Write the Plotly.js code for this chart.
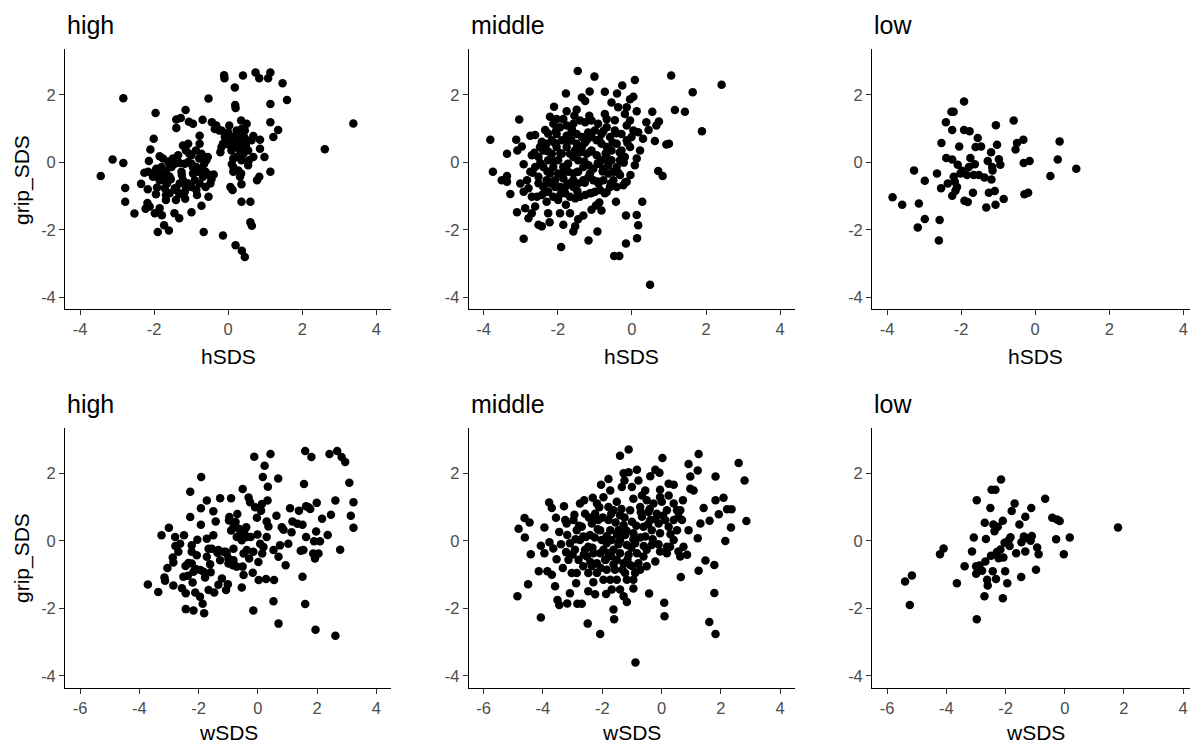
<!DOCTYPE html>
<html>
<head>
<meta charset="utf-8">
<script src="https://cdn.plot.ly/plotly-3.0.1.min.js"></script>
<style>html,body{margin:0;padding:0;background:#fff;}#chart{width:1190px;height:745px;}</style>
</head>
<body>
<div id="chart"></div>
<script>
// ---------- data ----------
const groups = ["high", "middle", "low"];
const xNamesTop = "hSDS";
const xNamesBottom = "wSDS";
const yName = "grip_SDS";

const hTicks = [-4, -2, 0, 2, 4];
const hTickText = ["-4", "-2", "0", "2", "4"];
const wTicks = [-6, -4, -2, 0, 2, 4];
const wTickText = ["-6", "-4", "-2", "0", "2", "4"];
const gripTicks = [-4, -2, 0, 2];
const gripTickText = ["-4", "-2", "0", "2"];

// hSDS vs grip_SDS, group "high"
const hSDS_high = [-3.44,-3.12,-2.83,-2.83,-2.78,-2.78,-2.53,-2.35,-2.26,-2.23,-2.18,-2.17,-2.14,-2.10,-2.01,-1.96,-2.12,-1.98,-1.90,-1.92,-2.03,-1.89,-1.85,-1.76,-1.80,-1.85,-1.79,-1.73,-1.60,-1.68,-1.68,-1.65,-1.58,-1.53,-1.49,-1.45,-1.32,-1.41,-1.32,-1.40,-1.40,-1.28,-1.15,-1.22,-1.14,-1.31,-1.26,-1.22,-1.17,-1.16,-1.06,-0.95,-1.05,-0.99,-0.95,-0.90,-0.99,-0.84,-0.77,-0.77,-0.78,-0.72,-0.69,-0.72,-0.66,-0.61,-0.55,-0.53,-0.50,-0.48,-0.53,-0.44,-0.39,-0.36,-0.24,-0.21,-0.14,-0.11,-0.10,-0.05,0.03,0.00,0.06,0.12,0.14,0.14,0.18,0.19,0.20,0.20,0.23,0.23,0.27,0.32,0.35,0.36,0.36,0.35,0.37,0.40,0.45,0.43,0.48,0.50,0.56,0.60,0.60,0.64,0.68,0.74,0.78,0.84,0.84,0.86,0.86,0.98,1.08,1.14,1.14,1.14,1.14,1.22,1.35,1.47,1.59,2.61,3.38,
  -1.94,-2.00,-1.76,-1.67,-1.58,-1.44,-1.35,-1.17,-1.08,-0.99,-0.86,-0.81,-0.68,-0.61,-0.59,-0.72,-0.87,-1.08,-1.31,-1.44,-1.58,-1.71,-1.76,-1.13,-0.99,-0.77,-0.86,-1.85,-2.16,
  -0.32,-0.18,-0.09,0.05,0.14,0.27,0.36,0.45,0.41,0.32,0.18,0.09,-0.14,-0.18,0.23,0.36,0.41,0.54,0.14,0.32,0.50,0.63,0.54,0.68,
  -1.85,-1.55,-1.25,-0.95,-0.65,-1.40,-1.95,-1.10,-0.45,-1.62,0.05,0.28,0.45,0.10,0.30];
const grip_high_h = [-0.41,0.08,1.90,-0.02,-0.76,-1.17,-1.52,-0.64,-0.31,-1.38,-1.21,-0.80,0.04,0.38,0.70,1.46,-1.31,-1.51,-2.07,-0.75,-0.43,-0.28,0.18,0.11,-0.14,-1.36,-1.57,-1.87,-2.02,-0.97,-1.12,-0.63,-0.43,-0.14,0.11,-1.51,-1.66,-1.12,-0.94,1.02,1.27,1.31,1.55,0.50,0.35,-0.02,-0.28,-0.53,-0.87,-1.08,1.20,1.14,0.25,-0.04,-0.33,-0.53,-1.48,-0.97,0.79,0.55,0.11,-0.19,1.26,-1.29,-2.07,-0.73,0.16,1.89,-0.38,-0.63,-1.02,1.19,-0.36,0.99,0.94,0.30,-2.17,2.58,2.49,0.55,1.09,0.89,-0.73,-0.82,-0.14,0.11,2.22,1.70,1.61,-2.46,0.94,0.55,-0.24,0.35,1.24,-0.65,-1.17,-0.33,-2.62,2.57,-2.81,0.75,0.50,1.14,0.06,-1.17,-1.78,-1.88,0.78,2.66,-0.53,-0.43,2.49,0.40,0.67,0.16,2.49,2.66,1.73,1.19,-0.28,0.75,0.96,2.34,1.85,0.39,1.15,
  -0.19,-0.31,-0.28,-0.33,-0.14,-0.04,0.21,-0.04,0.01,0.21,-0.14,-0.28,-0.43,-0.28,0.06,0.25,0.35,0.55,-0.63,-0.77,-0.92,-0.77,-0.53,-0.73,-0.73,-0.63,-0.82,-0.53,-0.28,
  1.09,0.94,0.75,0.65,0.75,0.84,0.99,0.94,0.60,0.50,0.45,0.35,0.55,0.45,0.16,0.06,0.25,0.35,-0.28,-0.43,0.65,0.65,-0.09,0.16,
  -0.35,-0.50,-0.38,-0.15,-0.05,-0.82,-0.95,-0.62,-0.50,0.02,0.50,0.70,0.40,-0.05,0.15];

// hSDS vs grip_SDS, group "middle"
const hSDS_middle = [-3.82,-3.75,-3.37,-3.51,-3.37,-3.37,-3.28,-3.12,-3.09,-3.04,-3.10,-2.92,-2.97,-3.01,-2.92,-2.88,-2.79,-2.74,-2.70,-2.70,-2.61,-2.61,-2.52,-2.43,-2.39,-2.34,-2.30,-2.26,-2.22,-2.21,-2.10,-2.03,-1.94,-1.91,-1.85,-1.78,-1.76,-1.78,-1.67,-1.58,-1.53,-1.49,-1.46,-1.45,-1.35,-1.31,-1.26,-1.17,-1.14,-1.15,-1.09,-1.01,-0.97,-0.93,-0.88,-0.82,-0.73,-0.73,-0.55,-0.46,-0.48,-0.43,-0.40,-0.34,-0.26,-0.19,-0.16,-0.16,-0.05,-0.04,0.04,0.08,0.13,0.13,0.14,0.17,0.17,0.28,0.30,0.39,0.45,0.49,0.55,0.62,0.66,0.73,0.71,0.83,0.93,1.00,1.06,1.16,1.43,1.64,1.89,2.42,
  0.22,0.13,0.08,-0.14,-0.23,-0.32,-0.41,-0.05,-0.01,-0.14,-0.28,-0.46,-0.59,-0.68,-0.82,-0.91,-1.00,-1.09,-1.26,-1.40,-1.58,-1.76,-1.94,-2.03,-2.16,-2.30,-2.48,-2.52,-2.61,-2.74,-2.83,-2.79,-2.92,-2.52,-2.39,-2.26,-2.12,-1.99,-2.39,-2.21,-2.07,-1.94,-1.80,-1.67,-1.53,-1.40,-1.26,-1.13,-0.99,-0.86,-0.73,-0.59,-0.50,-0.64,-0.77,-0.90,-1.04,-1.17,-1.31,-1.45,-1.58,-1.72,-1.85,-1.99,-2.12,-2.26,-2.16,-2.03,-1.89,-1.76,-1.63,-1.49,-1.35,-1.22,-1.09,-0.95,-0.82,-0.68,-0.55,-0.41,-0.28,-0.19,-0.41,-0.55,-0.68,-0.82,-0.95,-1.09,-1.22,-1.35,-1.49,-1.63,-1.76,-1.89,-1.99,-1.85,-1.72,-1.58,-1.45,-1.31,-1.17,-1.04,-0.90,-0.77,-0.64,-0.50,-0.32,-1.58,-1.45,-1.72,-1.40,-1.53,-1.67,-2.07,-2.21,-2.56,-2.70,-2.43,-1.80,-1.58,-2.30,-1.85,-1.55,-0.68,-0.14,-0.37,-0.05,0.04,-0.14,-2.12,-2.26,
  -2.05,-1.62,-1.18,-0.77,-0.42,-2.43,-2.08,-1.71,-1.27,-0.88,-0.52,-0.12,-2.63,-2.27,-1.93,-1.52,-1.12,-0.71,-0.33,-2.47,-2.12,-1.73,-1.28,-0.92,-0.61,-0.22,-2.68,-2.28,-1.88,-1.48,-1.13,-0.79,-0.37,-2.52,-2.13,-1.68,-1.27,-0.93,-0.57,-0.18,-2.33,-1.92,-1.47,-1.08,-0.68];
const grip_middle_h = [0.67,-0.28,0.25,-0.53,-0.41,-0.58,-0.94,0.67,0.35,1.27,-1.48,-2.27,0.47,-0.63,-0.06,-1.36,-1.66,0.79,0.21,-1.51,-1.31,0.81,-1.85,-1.90,0.35,0.96,-1.17,-1.51,-1.78,1.35,1.65,1.28,-1.51,-2.51,-1.85,2.04,1.51,-1.26,-1.51,-2.05,-1.90,1.56,2.71,-1.69,1.92,-1.58,1.82,-2.32,2.10,1.38,-1.41,2.54,-1.28,-2.05,-1.19,-1.43,2.09,1.43,1.77,1.25,-2.78,-1.17,2.04,-2.78,2.28,1.43,-1.58,-2.41,1.87,-0.38,1.94,2.44,1.51,-1.56,-2.25,0.89,-1.87,-1.17,0.70,1.19,0.96,-3.63,1.50,0.63,1.09,1.21,-0.26,-0.41,0.53,0.55,2.57,1.55,1.50,2.08,0.92,2.30,
  0.35,0.11,-0.09,-0.58,-0.68,0.06,-0.73,0.45,0.75,1.09,0.84,0.94,0.75,1.04,0.84,1.14,0.94,1.24,1.19,1.24,1.14,1.09,1.04,0.84,0.65,0.55,0.45,0.16,-0.14,-0.28,-0.53,-0.77,-0.87,-0.43,-0.73,-0.87,-1.02,-1.12,-0.14,-0.33,-0.53,-0.73,-0.92,-1.02,-1.07,-1.02,-0.97,-0.92,-0.87,-0.82,-0.92,-0.73,-0.53,-0.33,-0.53,-0.63,-0.53,-0.43,-0.53,-0.63,-0.73,-0.63,-0.48,-0.33,-0.14,0.06,0.25,0.45,0.65,0.79,0.89,0.84,0.75,0.65,0.75,0.65,0.55,0.45,0.35,0.55,0.35,0.16,-0.14,0.06,0.16,0.06,0.21,0.35,0.25,0.45,0.55,0.65,0.45,0.25,0.06,-0.14,-0.04,0.16,0.06,-0.14,-0.09,-0.19,-0.04,-0.19,-0.09,-0.28,-0.38,-0.33,-0.28,-0.28,0.30,0.35,0.25,-0.73,-0.63,-1.02,-1.02,-0.97,-0.73,-0.53,-0.53,1.28,1.38,1.28,1.63,1.63,1.24,0.94,0.65,1.14,0.85,
  0.92,0.97,0.88,0.93,0.86,0.61,0.57,0.63,0.58,0.66,0.59,0.57,0.28,0.33,0.27,0.36,0.31,0.26,0.29,-0.02,0.03,-0.05,0.02,-0.03,0.04,-0.01,-0.31,-0.27,-0.34,-0.29,-0.33,-0.27,-0.31,-0.62,-0.58,-0.64,-0.61,-0.57,-0.63,-0.59,-0.88,-0.93,-0.86,-0.91,-0.88];

// hSDS vs grip_SDS, group "low"
const hSDS_low = [-3.85,-3.59,-3.27,-3.17,-3.14,-2.98,-2.98,-2.65,-2.60,-2.58,-2.54,-2.53,-2.41,-2.40,-2.36,-2.26,-2.20,-2.24,-2.24,-2.24,-2.20,-2.17,-2.15,-2.11,-2.09,-2.05,-2.02,-1.97,-1.92,-1.92,-1.91,-1.84,-1.82,-1.79,-1.77,-1.75,-1.68,-1.66,-1.63,-1.61,-1.55,-1.52,-1.46,-1.37,-1.32,-1.28,-1.25,-1.19,-1.18,-1.16,-1.15,-1.09,-1.07,-1.06,-1.03,-0.98,-0.94,-0.85,-0.58,-0.53,-0.49,-0.32,-0.31,-0.29,-0.19,-0.15,0.41,0.61,0.66,1.11];
const grip_low_h = [-1.04,-1.26,-0.24,-1.93,-1.22,-0.55,-1.68,-0.33,-2.32,-1.71,-0.77,0.57,1.19,0.13,-0.63,1.50,1.50,0.96,0.08,-0.99,-0.43,-0.58,-0.84,-0.73,-0.07,0.47,-0.33,-0.25,1.80,0.96,-1.14,-0.38,-1.18,-0.14,0.92,0.13,-0.90,-0.38,-0.06,0.45,0.72,-0.38,0.47,-0.45,-1.34,0.04,-0.90,0.30,-0.51,-0.14,-0.24,-0.85,-1.26,1.10,0.52,0.09,-0.07,-1.09,1.24,0.38,0.57,0.67,-0.02,-0.95,-0.90,0.04,-0.41,0.08,0.62,-0.19];

// wSDS vs grip_SDS, group "high"
const wSDS_high = [-3.71,-3.36,-3.25,-3.15,-3.13,-3.05,-3.00,-2.87,-2.85,-2.85,-2.79,-2.78,-2.68,-2.56,-2.49,-2.44,-2.43,-2.43,-2.36,-2.34,-2.28,-2.28,-2.23,-2.20,-2.17,-2.11,-2.09,-2.06,-2.04,-1.95,-1.92,-1.92,-1.91,-1.86,-1.81,-1.83,-1.78,-1.72,-1.72,-1.66,-1.61,-1.59,-1.66,-1.50,-1.50,-1.47,-1.42,-1.36,-1.33,-1.27,-1.27,-1.21,-1.16,-1.08,-1.07,-1.01,-0.99,-0.97,-0.96,-0.90,-0.90,-0.84,-0.82,-0.75,-0.69,-0.71,-0.64,-0.54,-0.51,-0.51,-0.48,-0.48,-0.45,-0.39,-0.37,-0.31,-0.29,-0.26,-0.24,-0.17,-0.15,-0.12,-0.09,-0.03,-0.01,0.02,0.03,0.08,0.11,0.15,0.17,0.23,0.28,0.30,0.33,0.34,0.36,0.43,0.53,0.53,0.55,0.63,0.69,0.70,0.70,0.75,0.81,0.87,0.94,1.03,1.09,1.14,1.17,1.34,1.39,1.45,1.51,1.51,1.54,1.56,1.60,1.60,1.63,1.63,1.71,1.77,1.81,1.87,1.90,1.93,1.95,1.97,1.99,2.05,2.10,2.17,2.36,2.42,2.47,2.62,2.62,2.68,2.78,2.83,2.95,3.09,3.14,3.23,3.23,
  -0.82,-0.60,-0.37,-0.54,-1.05,-1.33,-1.55,-1.72,-1.94,-2.17,-2.23,-2.51,-2.23,-2.62,-0.82,-0.71,-0.99,0.14,0.06,0.30,0.19,-0.15];
const grip_high_w = [-1.29,-1.51,0.17,-1.08,-1.18,-0.80,0.39,-0.49,-0.64,-1.32,0.12,-0.15,-0.32,-1.40,0.17,-0.74,-1.55,-2.02,-1.03,-0.65,0.71,1.46,-0.13,-1.23,-2.06,-1.53,-0.83,-0.42,0.04,-1.65,0.97,0.48,1.90,-1.86,-2.14,-0.91,-1.08,1.20,0.07,-0.23,-0.69,-0.93,-1.45,0.88,0.17,-1.53,0.58,-0.35,-1.30,1.27,-0.57,-1.11,-0.32,-0.32,-1.45,-1.28,-0.52,0.61,0.71,1.27,0.31,-0.72,-0.23,0.56,0.80,0.12,0.36,-1.38,-0.76,1.54,-1.01,-0.37,0.22,0.41,-0.27,1.29,-0.52,1.15,0.12,-0.94,-2.06,2.50,1.00,0.69,0.19,-0.62,-1.16,-0.08,0.90,-0.37,1.90,2.23,-1.13,0.58,1.20,1.61,0.43,2.58,-1.79,-0.27,-1.16,0.75,1.85,-2.45,-0.47,-0.13,0.41,0.33,-0.72,-0.08,0.97,0.26,0.58,0.51,0.90,-0.29,0.48,-1.06,-0.27,1.69,2.67,-1.87,1.03,0.12,1.00,0.95,2.49,-0.37,-0.01,-0.52,-2.63,0.28,1.13,-0.37,-0.01,0.66,0.18,2.58,0.78,1.20,-2.81,2.67,-0.26,2.49,2.34,1.73,0.75,1.15,0.39,
  0.41,0.17,0.12,0.02,-0.37,-0.27,-0.23,-0.47,-0.86,-0.91,-0.67,-1.06,-0.32,-0.08,-0.57,-0.76,-0.67,1.10,0.98,0.12,-0.18,-0.32];

// wSDS vs grip_SDS, group "middle"
const wSDS_middle = [-4.86,-4.82,-4.62,-4.61,-4.50,-4.45,-4.41,-4.14,-4.07,-4.07,-3.95,-3.95,-3.85,-3.79,-3.78,-3.70,-3.70,-3.65,-3.59,-3.56,-3.54,-3.51,-3.45,-3.45,-3.39,-3.33,-3.29,-3.25,-3.22,-3.18,-3.18,-3.09,-3.03,-2.94,-2.88,-2.84,-2.75,-2.69,-2.61,-2.49,-2.47,-2.32,-2.30,-2.24,-2.07,-2.04,-1.87,-1.79,-1.68,-1.62,-1.60,-1.40,-1.28,-1.25,-1.17,-1.11,-1.11,-0.95,-0.88,-0.83,-0.66,-0.42,-0.38,-0.21,-0.21,-0.07,-0.05,0.03,0.09,0.10,0.24,0.29,0.41,0.52,0.63,0.65,0.72,0.86,0.91,0.91,0.97,0.97,1.08,1.22,1.22,1.25,1.25,1.31,1.42,1.48,1.61,1.62,1.78,1.78,1.82,1.82,1.82,1.93,2.09,2.15,2.21,2.34,2.36,2.60,2.80,2.86,
  -2.97,-2.86,-2.75,-2.92,-2.80,-2.64,-2.52,-2.47,-2.41,-2.35,-2.24,-2.13,-2.07,-2.02,-1.96,-1.90,-1.85,-2.18,-1.73,-1.57,-1.51,-1.62,-1.68,-1.73,-1.79,-1.62,-1.51,-1.40,-1.28,-1.23,-1.17,-1.11,-1.06,-1.23,-0.89,-0.78,-0.83,-0.89,-0.95,-1.00,-1.06,-0.95,-0.72,-0.66,-0.61,-0.55,-0.50,-0.61,-0.33,-0.38,-0.44,-0.27,-0.16,-0.10,-0.05,0.01,0.18,0.12,0.24,0.41,0.57,0.52,0.41,0.18,-0.05,-0.33,-1.40,-1.45,-1.79,-1.96,-2.18,-2.30,-2.58,-2.69,-3.09,-3.14,-2.86,-2.47,-2.35,-2.18,-2.07,-1.85,-1.79,-1.40,-1.28,-1.51,-1.40,-1.28,-1.96,-2.30,-2.58,-2.64,-3.20,-1.73,-1.34,-1.00,-0.78,-0.55,-0.50,-0.05,0.24,0.41,0.63,0.69,0.74,0.57,-0.50,-0.72,-0.95,-1.17,0.18,
  -2.78,-2.55,-2.33,-2.15,-1.98,-1.85,-1.70,-1.55,-1.45,-1.35,-1.18,-1.02,-0.85,-0.72,-0.60,-0.45,-0.30,-0.20,-2.62,-2.40,-2.05,-1.88,-1.62,-1.32,-1.15,-0.98,-2.90,-3.00,-2.45,-2.10,-1.70,-1.25,-0.95,-0.70,-0.40,0.05,0.30,-0.10,-1.50,-2.25];
const grip_middle_w = [-1.64,0.36,0.68,0.10,-1.28,0.55,-0.39,-0.90,-0.14,-2.27,0.40,-0.36,-0.90,1.14,-0.04,0.98,-1.00,-0.22,-1.34,0.69,-0.54,-1.75,-1.90,0.27,-0.10,-0.80,1.03,0.62,-0.33,-1.85,0.18,-1.55,-0.95,0.78,-1.25,-1.86,1.11,-1.86,1.21,-2.45,-1.49,1.28,-1.22,-1.58,-2.76,1.67,-1.57,1.84,-1.44,-2.03,-2.32,2.53,2.01,1.79,-1.81,2.71,2.04,-1.41,-3.60,2.11,1.35,-1.56,1.92,2.11,-0.61,2.02,1.52,2.46,-1.83,-2.23,1.70,-0.17,1.67,0.91,-0.46,-1.07,1.21,-0.41,0.32,2.28,1.91,1.55,1.50,2.09,0.08,-0.88,2.58,0.52,0.98,-0.58,-2.40,0.60,-0.71,-1.54,-2.76,1.91,1.21,0.79,1.28,0.00,0.94,0.40,0.94,2.31,1.79,0.59,
  0.62,0.32,0.03,-0.26,-0.56,-0.75,-0.46,-0.17,0.18,0.52,0.81,0.62,0.32,0.03,-0.26,-0.56,-0.85,-0.95,-1.15,-0.85,-0.56,-0.26,0.03,0.32,0.62,0.91,1.16,0.76,0.47,0.18,-0.12,-0.41,-0.71,-0.95,-0.95,-0.66,-0.36,-0.07,0.23,0.57,0.91,1.25,1.01,0.72,0.42,0.13,-0.26,-0.46,0.32,0.62,0.86,1.11,0.81,0.52,0.23,1.16,0.91,0.62,0.42,0.62,0.72,0.32,0.03,-0.17,-0.31,-0.12,0.03,0.32,1.01,1.30,1.11,0.62,0.81,0.42,-0.07,-0.56,-0.95,-0.95,-0.75,-0.66,-0.36,-0.07,-0.36,-0.36,-0.66,-1.15,-1.44,-1.64,-1.15,-0.36,-0.26,0.13,0.52,1.50,1.60,1.60,1.79,1.50,1.21,1.30,1.35,1.11,0.91,0.62,-0.17,-0.31,-0.75,-0.85,-1.15,-1.15,-0.36,
  0.45,0.12,-0.20,0.35,0.70,0.15,-0.45,0.55,-0.10,0.95,0.30,-0.20,0.45,0.10,-0.15,0.50,0.05,0.65,-0.40,-0.62,-0.80,-0.55,-0.70,-0.85,-0.55,-0.75,0.05,-0.40,0.70,1.00,0.80,0.70,0.05,0.85,0.95,0.75,0.20,-0.10,0.20,0.10];

// wSDS vs grip_SDS, group "low"
const wSDS_low = [-5.39,-5.23,-5.16,-4.21,-4.09,-3.64,-3.38,-3.13,-3.07,-2.99,-2.99,-2.97,-2.97,-2.88,-2.79,-2.71,-2.70,-2.68,-2.66,-2.62,-2.60,-2.51,-2.49,-2.47,-2.43,-2.41,-2.37,-2.34,-2.32,-2.29,-2.26,-2.23,-2.17,-2.15,-2.09,-2.09,-2.07,-2.03,-2.01,-1.94,-1.89,-1.86,-1.83,-1.79,-1.69,-1.64,-1.53,-1.47,-1.46,-1.38,-1.33,-1.33,-1.24,-1.15,-1.13,-1.11,-0.97,-0.93,-0.88,-0.66,-0.42,-0.29,-0.26,-0.17,-0.03,0.17,1.80];
const grip_low_w = [-1.20,-1.90,-1.02,-0.39,-0.22,-1.25,-0.75,-0.31,0.10,-0.75,-0.97,1.21,-2.32,-0.73,-0.88,-1.64,0.54,-0.61,0.06,-1.15,-1.32,0.98,-0.44,1.52,-0.90,0.49,0.29,1.52,-1.13,-0.33,0.42,-0.51,-0.25,1.82,0.60,-1.70,-0.49,-0.05,-0.90,-1.25,0.03,-0.15,0.11,0.89,1.11,-0.36,0.49,-1.07,-0.04,0.13,0.72,-0.31,0.08,0.01,0.98,0.15,-0.85,-0.19,-0.39,1.25,0.69,0.05,0.64,0.59,-0.39,0.10,0.40];

// ---------- chart ----------
const W = 1190, H = 745;
const FONT = '"Liberation Sans", Arial, Helvetica, sans-serif';
const px = v => v / W;
const py = v => 1 - v / H;

const colDom = [[px(65.2), px(391.1)], [px(468.8), px(795.0)], [px(872.2), 1]];
const rowDom = [[py(309), py(49.3)], [py(687.7), py(428)]];
const xRangeTop = [[-4.4, 4.4], [-4.4, 4.4], [-4.4, 4.18]];
const xRangeBot = [[-6.5, 4.5], [-6.5, 4.5], [-6.5, 4.23]];
const yRange = [-4.35, 3.35];

const panels = [
  {x: hSDS_high, y: grip_high_h}, {x: hSDS_middle, y: grip_middle_h}, {x: hSDS_low, y: grip_low_h},
  {x: wSDS_high, y: grip_high_w}, {x: wSDS_middle, y: grip_middle_w}, {x: wSDS_low, y: grip_low_w}
];

const traces = panels.map((p, i) => ({
  type: 'scatter', mode: 'markers', x: p.x, y: p.y,
  xaxis: i === 0 ? 'x' : 'x' + (i + 1),
  yaxis: i === 0 ? 'y' : 'y' + (i + 1),
  marker: {color: '#000000', size: 8.5, line: {width: 0}},
  hoverinfo: 'skip', showlegend: false
}));

const axisBase = {
  showline: true, linecolor: '#000000', linewidth: 1.1,
  ticks: 'outside', ticklen: 5, tickwidth: 1, tickcolor: '#333333',
  showgrid: false, zeroline: false, fixedrange: true,
  tickfont: {family: FONT, size: 16.5, color: '#4D4D4D'},
  tickmode: 'array'
};

const layout = {
  width: W, height: H,
  margin: {l: 0, r: 0, t: 0, b: 0},
  paper_bgcolor: '#ffffff', plot_bgcolor: '#ffffff',
  showlegend: false,
  annotations: []
};

const centers = [228.2, 631.9, 1035.3];
for (let i = 0; i < 6; i++) {
  const row = i < 3 ? 0 : 1;
  const col = i % 3;
  const sx = i === 0 ? '' : String(i + 1);
  layout['xaxis' + sx] = Object.assign({}, axisBase, {
    domain: colDom[col],
    range: row === 0 ? xRangeTop[col] : xRangeBot[col],
    tickvals: row === 0 ? hTicks : wTicks,
    ticktext: row === 0 ? hTickText : wTickText,
    anchor: 'y' + sx
  });
  layout['yaxis' + sx] = Object.assign({}, axisBase, {
    domain: rowDom[row],
    range: yRange,
    tickvals: gripTicks,
    ticktext: gripTickText,
    anchor: 'x' + sx
  });
  // panel title
  layout.annotations.push({
    text: groups[col], xref: 'paper', yref: 'paper',
    x: colDom[col][0], y: row === 0 ? py(25) : py(403.7),
    xanchor: 'left', yanchor: 'middle', showarrow: false,
    font: {family: FONT, size: 25, color: '#000000'}
  });
  // x axis title
  layout.annotations.push({
    text: row === 0 ? xNamesTop : xNamesBottom, xref: 'paper', yref: 'paper',
    x: px(centers[col]), y: row === 0 ? py(356.4) : 0,
    xanchor: 'center', yanchor: row === 0 ? 'middle' : 'bottom', showarrow: false,
    borderpad: 0,
    font: {family: FONT, size: 21, color: '#000000'}
  });
}
// y axis titles (left column only)
[180, 558].forEach(cy => {
  layout.annotations.push({
    text: yName, xref: 'paper', yref: 'paper',
    x: px(22), y: py(cy), xanchor: 'center', yanchor: 'middle',
    textangle: -90, showarrow: false,
    font: {family: FONT, size: 21, color: '#000000'}
  });
});

Plotly.newPlot('chart', traces, layout, {staticPlot: true, displayModeBar: false});
</script>
</body>
</html>
